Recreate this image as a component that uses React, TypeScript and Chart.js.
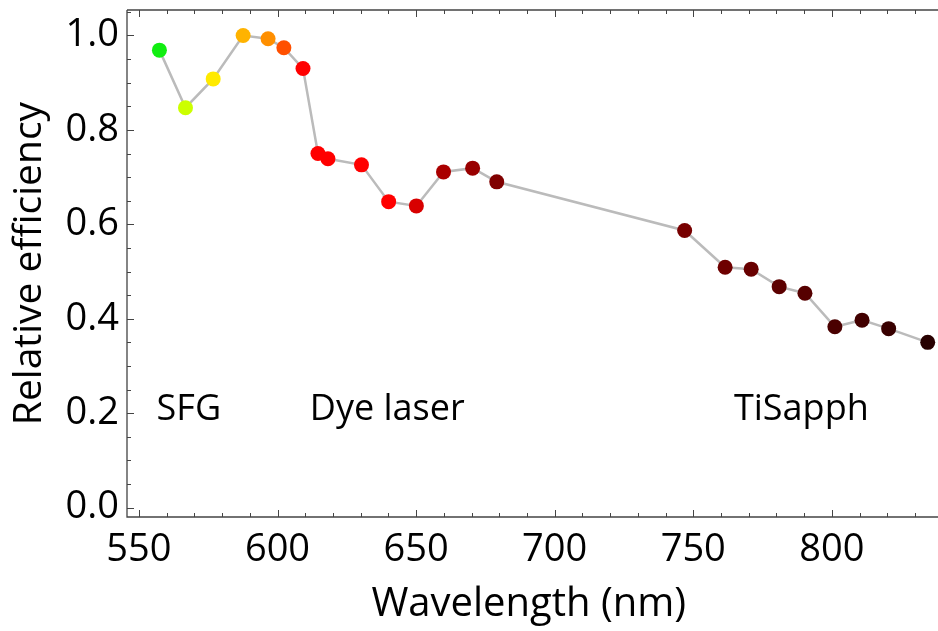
import React, { useEffect, useRef } from "react";
import { Chart, registerables } from "chart.js";

Chart.register(...registerables);

const wavelengths = [557.4, 566.8, 576.8, 587.6, 596.6, 602.3, 609.2, 614.6, 618.2, 630.3, 640.1, 650.1, 659.9, 670.4, 679.1, 746.9, 761.5, 770.9, 781.0, 790.3, 801.1, 810.9, 820.5, 834.6];
const efficiency = [0.969, 0.847, 0.908, 1.0, 0.993, 0.974, 0.930, 0.750, 0.739, 0.726, 0.648, 0.639, 0.711, 0.719, 0.690, 0.587, 0.509, 0.505, 0.468, 0.454, 0.383, 0.397, 0.379, 0.350];
const pointColors = [
  "#11EE11", "#CCFF00", "#FFEA00", "#FFB300", "#FF8F00", "#FF5000", "#FF0000",
  "#FF0000", "#FF0000", "#FF0000", "#FF0000", "#D80000", "#AA0000", "#990000",
  "#800000", "#780000", "#6E0000", "#680000", "#5C0000", "#560000", "#4A0000",
  "#420000", "#380000", "#280000",
];
const xTicks = [550, 600, 650, 700, 750, 800];
const yTicks = [0.0, 0.2, 0.4, 0.6, 0.8, 1.0];
const annotationLabels = ["SFG", "Dye laser", "TiSapph"];
const annotationX = [568, 639.6, 789];
const annotationY = [0.207, 0.207, 0.207];

const FONT = "'Open Sans', 'Noto Sans', sans-serif";

const framePlugin = {
  id: "frame",
  afterDraw(chart: any) {
    const { ctx, chartArea } = chart;
    const xs = chart.scales.x;
    const ys = chart.scales.y;
    ctx.save();
    ctx.strokeStyle = "#444444";
    ctx.lineWidth = 1.3;
    ctx.beginPath();
    ctx.moveTo(chartArea.left, chartArea.top);
    ctx.lineTo(chartArea.left, chartArea.bottom);
    ctx.lineTo(chart.width, chartArea.bottom);
    ctx.moveTo(chartArea.left, chartArea.top);
    ctx.lineTo(chart.width, chartArea.top);
    ctx.stroke();
    ctx.lineWidth = 1;
    ctx.beginPath();
    for (let v = 550; v <= 840; v += 10) {
      const px = Math.round(xs.getPixelForValue(v)) + 0.5;
      if (px < chartArea.left || px > chart.width) continue;
      const len = v % 50 === 0 ? 7 : 4;
      ctx.moveTo(px, chartArea.bottom);
      ctx.lineTo(px, chartArea.bottom - len);
      ctx.moveTo(px, chartArea.top);
      ctx.lineTo(px, chartArea.top + len);
    }
    for (let i = 0; i <= 21; i++) {
      const v = i * 0.05;
      const py = Math.round(ys.getPixelForValue(v)) + 0.5;
      if (py < chartArea.top || py > chartArea.bottom) continue;
      const len = i % 4 === 0 ? 7 : 4;
      ctx.moveTo(chartArea.left, py);
      ctx.lineTo(chartArea.left + len, py);
    }
    ctx.stroke();

    ctx.fillStyle = "#000000";
    ctx.font = `36px ${FONT}`;
    ctx.textAlign = "center";
    ctx.textBaseline = "middle";
    annotationLabels.forEach((t, i) => {
      ctx.fillText(t, xs.getPixelForValue(annotationX[i]), ys.getPixelForValue(annotationY[i]));
    });
    ctx.restore();
  },
};

export default function App() {
  const ref = useRef<HTMLCanvasElement | null>(null);
  useEffect(() => {
    if (!ref.current) return;
    const chart = new Chart(ref.current, {
      type: "line",
      data: {
        datasets: [
          {
            data: wavelengths.map((x, i) => ({ x, y: efficiency[i] })),
            borderColor: "#BBBBBB",
            borderWidth: 2.5,
            pointBackgroundColor: pointColors,
            pointBorderWidth: 0,
            pointRadius: 7.5,
            pointHoverRadius: 7.5,
            tension: 0,
            clip: false,
          },
        ],
      },
      options: {
        animation: false,
        responsive: true,
        maintainAspectRatio: false,
        layout: { padding: { top: 10, right: 0, left: 0, bottom: 0 } },
        plugins: { legend: { display: false }, tooltip: { enabled: false } },
        scales: {
          x: {
            type: "linear",
            min: 545.7,
            max: 835.6,
            grid: { display: false, drawTicks: false },
            border: { display: false },
            afterBuildTicks: (s: any) => {
              s.ticks = xTicks.map((v) => ({ value: v }));
            },
            afterFit: (s: any) => {
              s.height = 114;
              s.paddingLeft = 0;
              s.paddingRight = 0;
            },
            ticks: {
              font: { size: 38, family: FONT },
              color: "#000000",
              padding: 10,
              maxRotation: 0,
              autoSkip: false,
              callback: (v: any) => String(v),
            },
            title: {
              display: true,
              text: "Wavelength (nm)",
              font: { size: 40, family: FONT },
              color: "#000000",
              padding: { top: 0, bottom: 2 },
            },
          },
          y: {
            type: "linear",
            min: -0.02,
            max: 1.054,
            grid: { display: false, drawTicks: false },
            border: { display: false },
            afterBuildTicks: (s: any) => {
              s.ticks = yTicks.map((v) => ({ value: v }));
            },
            afterFit: (s: any) => {
              s.width = 127;
              s.paddingTop = 0;
              s.paddingBottom = 0;
            },
            ticks: {
              font: { size: 38, family: FONT },
              color: "#000000",
              padding: 8,
              autoSkip: false,
              callback: (v: any) => Number(v).toFixed(1),
            },
            title: {
              display: true,
              text: "Relative efficiency",
              font: { size: 39, family: FONT },
              color: "#000000",
              padding: { top: 6, bottom: 0 },
            },
          },
        },
      },
      plugins: [framePlugin],
    });
    return () => chart.destroy();
  }, []);
  return (
    <div style={{ position: "absolute", left: 0, top: 0, width: 938, height: 631 }}>
      <canvas ref={ref} />
    </div>
  );
}
